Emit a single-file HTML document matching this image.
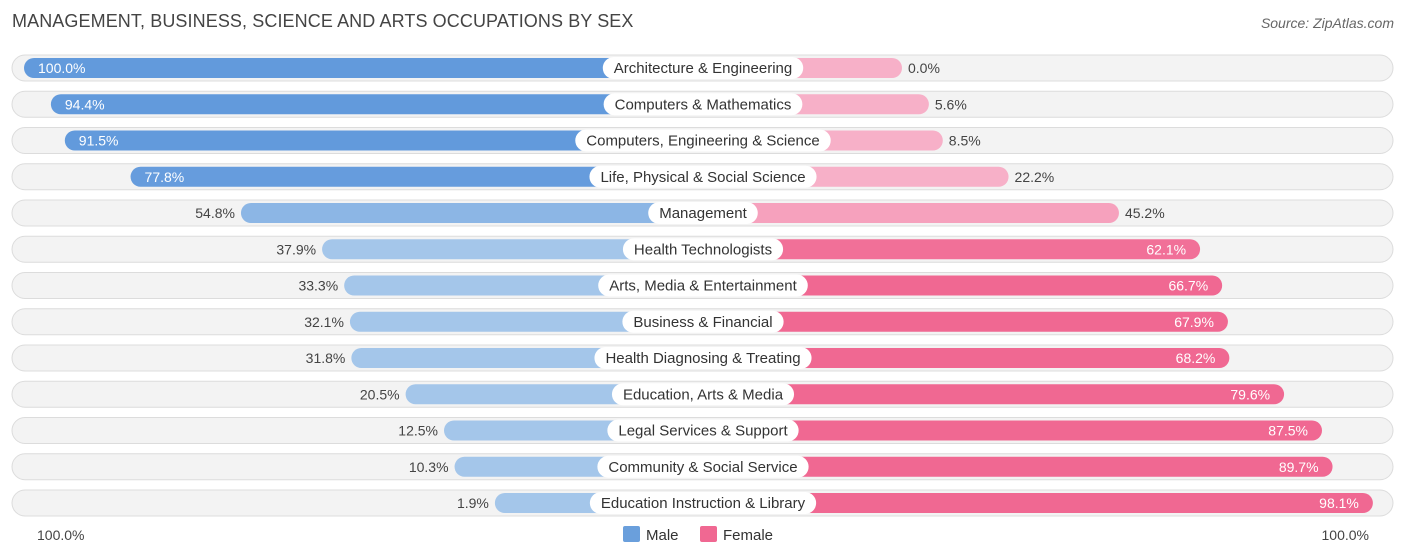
<!DOCTYPE html>
<html><head><meta charset="utf-8"><style>
body{margin:0;background:#fff;font-family:"Liberation Sans",sans-serif;}
#wrap{position:relative;width:1406px;height:559px;overflow:hidden}
.title{position:absolute;left:12px;top:11px;font-size:18px;color:#444;letter-spacing:0.1px}
.src{position:absolute;right:12px;top:15px;font-size:14px;color:#666;font-style:italic}
</style></head><body>
<div id="wrap">
<div class="title">MANAGEMENT, BUSINESS, SCIENCE AND ARTS OCCUPATIONS BY SEX</div>
<div class="src">Source: ZipAtlas.com</div>
<svg id="svg" width="1406" height="559" style="position:absolute;left:0;top:0;font-family:'Liberation Sans',sans-serif"></svg>
</div>
<script>
const categories=["Architecture & Engineering","Computers & Mathematics","Computers, Engineering & Science","Life, Physical & Social Science","Management","Health Technologists","Arts, Media & Entertainment","Business & Financial","Health Diagnosing & Treating","Education, Arts & Media","Legal Services & Support","Community & Social Service","Education Instruction & Library"];
const maleValues=[100.0,94.4,91.5,77.8,54.8,37.9,33.3,32.1,31.8,20.5,12.5,10.3,1.9];
const femaleValues=[0.0,5.6,8.5,22.2,45.2,62.1,66.7,67.9,68.2,79.6,87.5,89.7,98.1];
const axisLabels=["100.0%","100.0%"];
const svg=document.getElementById('svg');
const NS='http://www.w3.org/2000/svg';
const cx=703, base=199, y0=68, step=36.25;
const xScale=v=>base+v*4.8;
const yScale=i=>y0+i*step;
function mk(t,a){const e=document.createElementNS(NS,t);for(const k in a)e.setAttribute(k,a[k]);svg.appendChild(e);return e;}
function mix(c1,c2,t){return 'rgb('+c1.map((c,i)=>Math.round(c+(c2[i]-c)*t)).join(',')+')';}
const mLight=[164,198,234],mDark=[98,154,220],fLight=[247,176,200],fDark=[240,104,146];
categories.forEach((cat,i)=>{
  const y=yScale(i);
  const bg=mk('rect',{x:12,y:y-13,width:1381,height:26,rx:13,fill:'#f3f3f3',stroke:'#dcdcdc','stroke-width':1});
  
  
  const m=maleValues[i],f=femaleValues[i];
  const mw=xScale(m);
  const mb=mk('rect',{x:cx-mw,y:y-10,width:mw,height:20,rx:10,fill:mix(mLight,mDark,Math.min(1,Math.max(0,(m-40)/40)))});
  
  
  const fw=xScale(f);
  const fb=mk('rect',{x:cx,y:y-10,width:fw,height:20,rx:10,fill:mix(fLight,fDark,Math.min(1,Math.max(0,(f-40)/25)))});
  
  
  const ml=mk('text',{y:y+5,'font-size':14});
  if(m>60){ml.setAttribute('x',cx-mw+14);ml.setAttribute('fill','#fff');}
  else{ml.setAttribute('x',cx-mw-6);ml.setAttribute('text-anchor','end');ml.setAttribute('fill','#444');}
  ml.textContent=m.toFixed(1)+'%';
  
  
  const fl=mk('text',{y:y+5,'font-size':14});
  if(f>60){fl.setAttribute('x',cx+fw-14);fl.setAttribute('text-anchor','end');fl.setAttribute('fill','#fff');}
  else{fl.setAttribute('x',cx+fw+6);fl.setAttribute('fill','#444');}
  fl.textContent=f.toFixed(1)+'%';
  
  
  const t=mk('text',{x:cx,y:y+5,'font-size':15,'text-anchor':'middle',fill:'#333'});
  t.textContent=cat;
  const w=t.getComputedTextLength()+22;
  const pill=mk('rect',{x:cx-w/2,y:y-11,width:w,height:22,rx:11,fill:'#fff'});
  svg.insertBefore(pill,t);
  
  
  
  
});
const a1=mk('text',{x:37,y:540,'font-size':14,fill:'#444'});a1.textContent=axisLabels[0];


const a2=mk('text',{x:1369,y:540,'font-size':14,fill:'#444','text-anchor':'end'});a2.textContent=axisLabels[1];


const l1=mk('rect',{x:623,y:526,width:17,height:16,rx:2,fill:'#6a9fdc'});


const lt1=mk('text',{x:646,y:540,'font-size':15,fill:'#333'});lt1.textContent='Male';


const l2=mk('rect',{x:700,y:526,width:17,height:16,rx:2,fill:'#f06892'});


const lt2=mk('text',{x:723,y:540,'font-size':15,fill:'#333'});lt2.textContent='Female';


</script>
</body></html>
